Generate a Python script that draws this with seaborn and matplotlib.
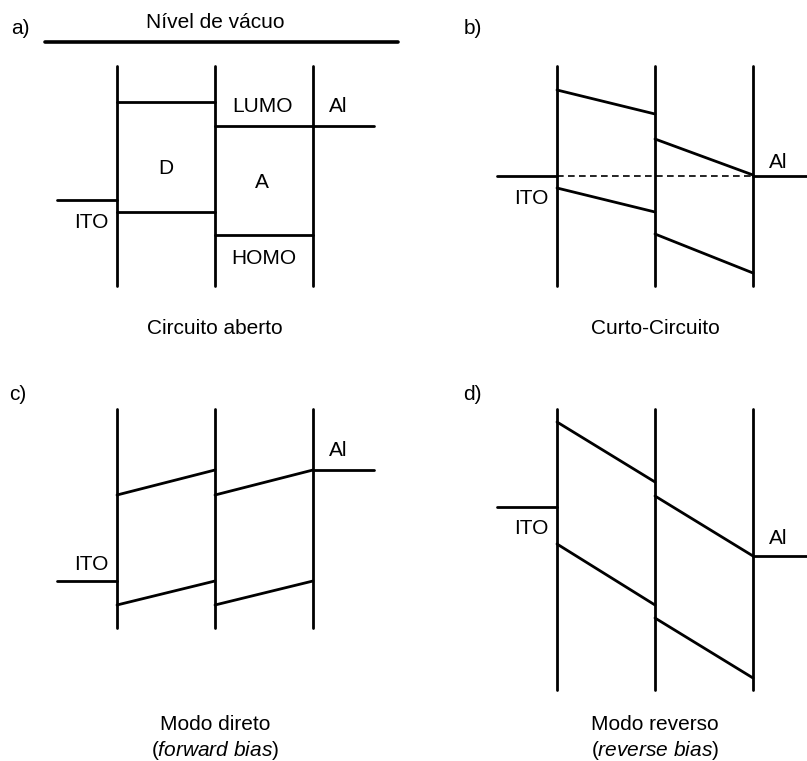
import matplotlib
matplotlib.use("Agg")
import matplotlib.pyplot as plt
import pandas as pd
import seaborn as sns

# energy-level schematic, local units: x from first interface, y downward from top of interfaces
interfaces = [0, 98, 196]
ito_span = [-60, 0]
al_span = [196, 257]

# panel a) open circuit: flat levels
vacuum_a = -24
d_lumo_a = [36, 36]
a_lumo_a = [60, 60]
d_homo_a = [146, 146]
a_homo_a = [169, 169]
ito_a = 134
al_a = 60

# panel b) short circuit
d_lumo_b = [24, 48]
a_lumo_b = [73, 109]
d_homo_b = [122, 146]
a_homo_b = [168, 207]
ito_b = 110
al_b = 110

# panel c) forward bias
d_lumo_c = [86, 61]
a_lumo_c = [86, 61]
d_homo_c = [196, 172]
a_homo_c = [196, 172]
ito_c = 172
al_c = 61

# panel d) reverse bias
d_lumo_d = [13, 73]
a_lumo_d = [87, 147]
d_homo_d = [135, 196]
a_homo_d = [209, 269]
ito_d = 98
al_d = 147

wall_height = {"a": 220, "b": 220, "c": 219, "d": 281}
origins = {"a": (117, 66), "b": (557, 66), "c": (117, 409), "d": (557, 409)}

levels = {
    "a": (d_lumo_a, a_lumo_a, d_homo_a, a_homo_a, ito_a, al_a),
    "b": (d_lumo_b, a_lumo_b, d_homo_b, a_homo_b, ito_b, al_b),
    "c": (d_lumo_c, a_lumo_c, d_homo_c, a_homo_c, ito_c, al_c),
    "d": (d_lumo_d, a_lumo_d, d_homo_d, a_homo_d, ito_d, al_d),
}

rows = []
seg = 0


def add(xs, ys, ox, oy):
    global seg
    for x, y in zip(xs, ys):
        rows.append({"x": x + ox, "y": y + oy, "seg": seg})
    seg += 1


for key, (dl, al_, dh, ah, ito, al) in levels.items():
    ox, oy = origins[key]
    for xi in interfaces:
        add([xi, xi], [0, wall_height[key]], ox, oy)
    add(interfaces[0:2], dl, ox, oy)
    add(interfaces[1:3], al_, ox, oy)
    add(interfaces[0:2], dh, ox, oy)
    add(interfaces[1:3], ah, ox, oy)
    add(ito_span, [ito, ito], ox, oy)
    add(al_span, [al, al], ox, oy)

df = pd.DataFrame(rows)

sns.set_style("white")
plt.rcParams["font.family"] = ["Liberation Sans", "DejaVu Sans"]
plt.rcParams["text.color"] = "black"
plt.rcParams["mathtext.fontset"] = "custom"
plt.rcParams["mathtext.rm"] = "Liberation Sans"
plt.rcParams["mathtext.it"] = "Liberation Sans:italic"

fig = plt.figure(figsize=(8.07, 7.61), dpi=100)
ax = fig.add_axes([0, 0, 1, 1])

sns.lineplot(data=df, x="x", y="y", units="seg", estimator=None, sort=False,
             color="black", lw=2.0, ax=ax)

# vacuum level
oxa, oya = origins["a"]
vac = pd.DataFrame({"x": [-72 + oxa, 281 + oxa], "y": [vacuum_a + oya] * 2})
sns.lineplot(data=vac, x="x", y="y", estimator=None, sort=False,
             color="black", lw=2.6, ax=ax)

# dashed Fermi alignment in b)
oxb, oyb = origins["b"]
fermi = pd.DataFrame({"x": [interfaces[0] + oxb, interfaces[2] + oxb],
                      "y": [ito_b + oyb] * 2})
sns.lineplot(data=fermi, x="x", y="y", estimator=None, sort=False,
             color="black", lw=1.2, linestyle=(0, (4, 2.6)), ax=ax)

ax.set_xlim(0, 807)
ax.set_ylim(761, 0)
ax.axis("off")

fs = 15
labels = [
    ("a)", 20, 28), ("Nível de vácuo", 215, 22), ("LUMO", 262, 107), ("Al", 338, 107),
    ("D", 166, 169), ("A", 262, 182), ("ITO", 91, 223), ("HOMO", 264, 258),
    ("Circuito aberto", 215, 328),
    ("b)", 473, 28), ("ITO", 531, 199), ("Al", 778, 163), ("Curto-Circuito", 655, 328),
    ("c)", 18, 395), ("ITO", 91, 565), ("Al", 338, 451), ("Modo direto", 215, 724),
    ("d)", 472, 395), ("ITO", 531, 529), ("Al", 778, 538), ("Modo reverso", 655, 724),
]
for txt, x, y in labels:
    ax.text(x, y, txt, fontsize=fs, ha="center", va="center")

ax.text(215, 750, r"($\it{forward\ bias}$)", fontsize=fs, ha="center", va="center")
ax.text(655, 750, r"($\it{reverse\ bias}$)", fontsize=fs, ha="center", va="center")

fig.savefig("out.png", dpi=100)
plt.close(fig)
